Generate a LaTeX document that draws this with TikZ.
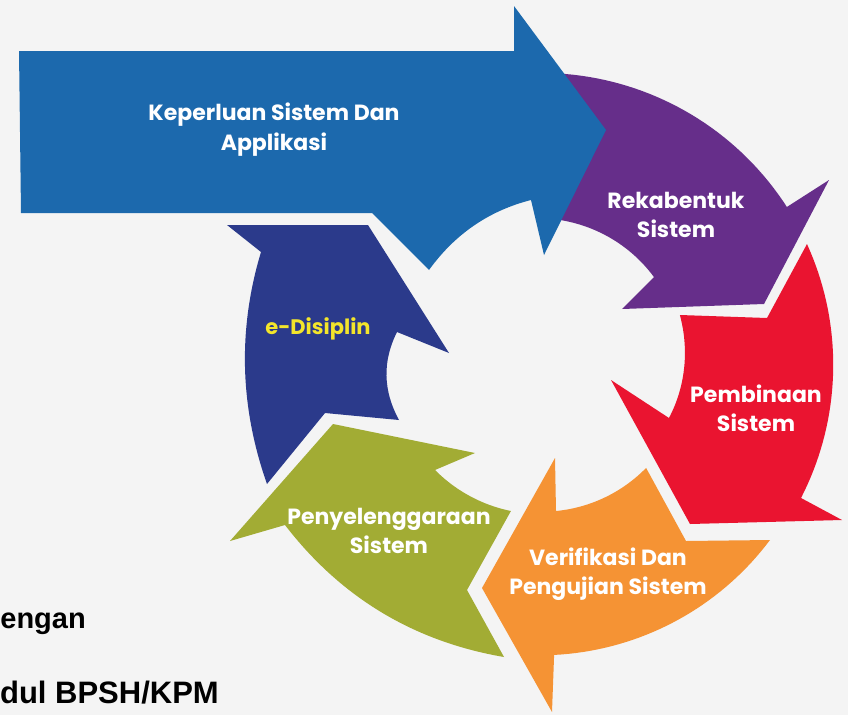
\documentclass[tikz,border=0pt]{standalone}
\usepackage{fontspec}
\newfontfamily\gothic{Poppins}
\newfontfamily\arialf{Liberation Sans}
\definecolor{bgc}{HTML}{F4F4F4}
\definecolor{blu}{HTML}{1C69AD}
\definecolor{purp}{HTML}{662E8A}
\definecolor{redc}{HTML}{EA1430}
\definecolor{oran}{HTML}{F59334}
\definecolor{gree}{HTML}{A2AC34}
\definecolor{dblu}{HTML}{2B3A8B}
\definecolor{yell}{HTML}{F3E52B}
\begin{document}
\begin{tikzpicture}[x=1pt,y=-1pt,
  declare function={
    rr(\vt,\va,\vb,\vr,\vs)=\vr+(\vs-\vr)*(\vt-\va)/(\vb-\va);
    px(\vt,\va,\vb,\vr,\vs)=542+rr(\vt,\va,\vb,\vr,\vs)*cos(\vt);
    py(\vt,\va,\vb,\vr,\vs)=366+rr(\vt,\va,\vb,\vr,\vs)*sin(\vt);
  },
  arcp/.style={variable=\t, samples=36},
  lbl/.style={text=white, align=center, font=\gothic\bfseries\fontsize{22}{29}\selectfont, inner sep=0pt},
  note/.style={text=black, font=\arialf\bfseries\fontsize{31}{36}\selectfont, inner sep=0pt}
]
\useasboundingbox (0,0) rectangle (848,715);
\clip (0,0) rectangle (848,715);
\fill[bgc] (0,0) rectangle (848,715);

% purple (tail hidden under the blue arrow)
\fill[purp] plot[arcp,domain=-87:-33] ({px(\t,-87,-33,293,292)},{py(\t,-87,-33,293,292)})
  -- (829,180) -- (764,304) -- (622,309) -- (654,277)
  -- plot[arcp,domain=-38.5:-86] ({px(\t,-38.5,-86,143,147.4)},{py(\t,-38.5,-86,143,147.4)})
  -- cycle;

% big blue arrow
\fill[blu] (19,51) -- (514,51) -- (514,6) -- (606,130) -- (544,255) -- (531,200)
  .. controls (489,210.7) and (455,234) .. (429,270)
  -- (372,213) -- (21,213) -- cycle;

% red
\fill[redc] (680,315) -- (767,318) -- (807,244)
  -- plot[arcp,domain=-24.7:27] ({px(\t,-24.7,27,291.7,290.7)},{py(\t,-24.7,27,291.7,290.7)})
  -- (842,520) -- (690,524) -- (611,380) -- (669,418)
  -- plot[arcp,domain=22.3:-20.3] ({px(\t,22.3,-20.3,137.2,147)},{py(\t,22.3,-20.3,137.2,147)})
  -- cycle;

% orange
\fill[oran] (555,458) -- (556,511)
  -- plot[arcp,domain=84.5:44.4] ({px(\t,84.5,44.4,145.7,145.7)},{py(\t,84.5,44.4,145.7,145.7)})
  -- (686,541) -- (770,540)
  -- plot[arcp,domain=37.4:87.6] ({px(\t,37.4,87.6,286.8,289.2)},{py(\t,37.4,87.6,286.8,289.2)})
  -- (552,712) -- (482,588) -- cycle;

% green
\fill[gree] (333,424) -- (475,453) -- (435,470)
  -- plot[arcp,domain=135.8:102.1] ({px(\t,135.8,102.1,149.2,148.3)},{py(\t,135.8,102.1,149.2,148.3)})
  -- (467,590) -- (504,657)
  .. controls (413.8,641.5) and (340.8,597.5) .. (285,525)
  -- (230,541) -- cycle;

% dark blue
\fill[dblu] (227,225) -- (368,225) -- (449,353) -- (397,332)
  .. controls (382.3,361.3) and (383,390.7) .. (399,420)
  -- (325,413) -- (267,484)
  .. controls (239.7,406.7) and (237.7,329.3) .. (261,252)
  -- cycle;

% labels
\node[lbl, font=\gothic\bfseries\fontsize{22}{30}\selectfont] (kep) at (274,130) {Keperluan Sistem Dan\\Applikasi};
\node[lbl] (rek) at (676,215) {Rekabentuk\\Sistem};
\node[lbl] (pem) at (756,408) {Pembinaan\\Sistem};
\node[lbl] (ver) at (608,574) {Verifikasi Dan\\Pengujian Sistem};
\node[lbl] (pen) at (389,531) {Penyelenggaraan\\Sistem};
\node[lbl, text=yell, font=\gothic\bfseries\fontsize{21}{29}\selectfont] (edi) at (318,329) {e-Disiplin};

\node[note, font=\arialf\bfseries\fontsize{29}{34}\selectfont, anchor=base east] (n1) at (86,628) {engan};
\node[note, anchor=base east] (n2) at (219,703) {dul BPSH/KPM};
\end{tikzpicture}
\end{document}
